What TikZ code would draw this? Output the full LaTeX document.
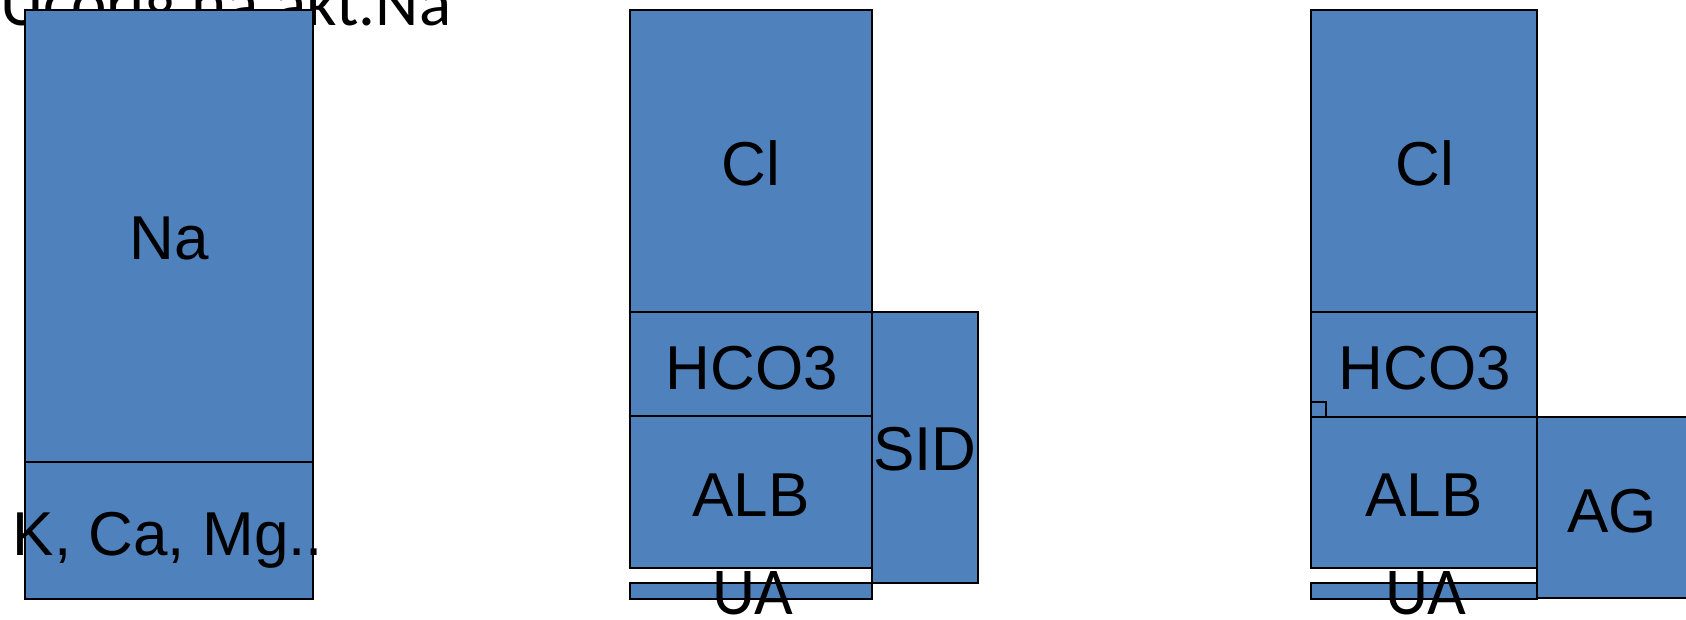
\documentclass[tikz,border=0pt]{standalone}
\usepackage{fontspec}
\setmainfont{Liberation Sans}
\newfontfamily\calib{Carlito}
\definecolor{boxblue}{HTML}{4F81BD}
\tikzset{
  box/.style={draw=black, line width=1.5pt, fill=boxblue, inner sep=0pt, outer sep=0pt},
  lbl/.style={inner sep=0pt, anchor=base, font=\fontsize{62}{70}\selectfont},
  clbl/.style={inner sep=0pt, anchor=base, font=\calib\fontsize{67}{75}\selectfont}
}
\begin{document}
\begin{tikzpicture}[x=1pt,y=-1pt]
\useasboundingbox (0,0) rectangle (1686,619);
% hidden top text
\node[clbl, anchor=base west] (top) at (0,25) {Ucorig na akt.Na};
% left column
\node[box, minimum width=288pt, minimum height=452pt] (na) at (169,236) {};
\node[box, minimum width=288pt, minimum height=137pt] (kcm) at (169,530.5) {};
\node[lbl] (naT) at (169,259.5) {Na};
\node[lbl] (kcmT) at (168,555) {K, Ca, Mg..};
% middle column
\node[box, minimum width=242pt, minimum height=302pt] (cl1) at (751,161) {};
\node[box, minimum width=242pt, minimum height=104pt] (hco1) at (751,364) {};
\node[box, minimum width=242pt, minimum height=152pt] (alb1) at (751,492) {};
\node[box, minimum width=242pt, minimum height=16pt] (ua1) at (751,591) {};
\node[box, minimum width=106pt, minimum height=271pt] (sid) at (925,447.5) {};
\node[lbl] (cl1T) at (751,185) {Cl};
\node[lbl] (hco1T) at (752,389) {HCO3};
\node[lbl] (alb1T) at (751,516) {ALB};
\node[lbl] (sidT) at (925,470) {SID};
\node[clbl] (ua1T) at (753,614) {UA};
% right column
\node[box, minimum width=226pt, minimum height=302pt] (cl2) at (1424,161) {};
\node[box, minimum width=226pt, minimum height=105pt] (hco2) at (1424,364.5) {};
\node[box, minimum width=15pt, minimum height=15pt] (sm) at (1318.5,409.5) {};
\node[box, minimum width=226pt, minimum height=151pt] (alb2) at (1424,492.5) {};
\node[box, minimum width=226pt, minimum height=16pt] (ua2) at (1424,591) {};
\node[box, minimum width=150pt, minimum height=181pt] (ag) at (1612,507.5) {};
\node[lbl] (cl2T) at (1425,185) {Cl};
\node[lbl] (hco2T) at (1425,389) {HCO3};
\node[lbl] (alb2T) at (1424,516) {ALB};
\node[lbl] (agT) at (1612,532) {AG};
\node[clbl] (ua2T) at (1426,614) {UA};
\end{tikzpicture}
\end{document}
